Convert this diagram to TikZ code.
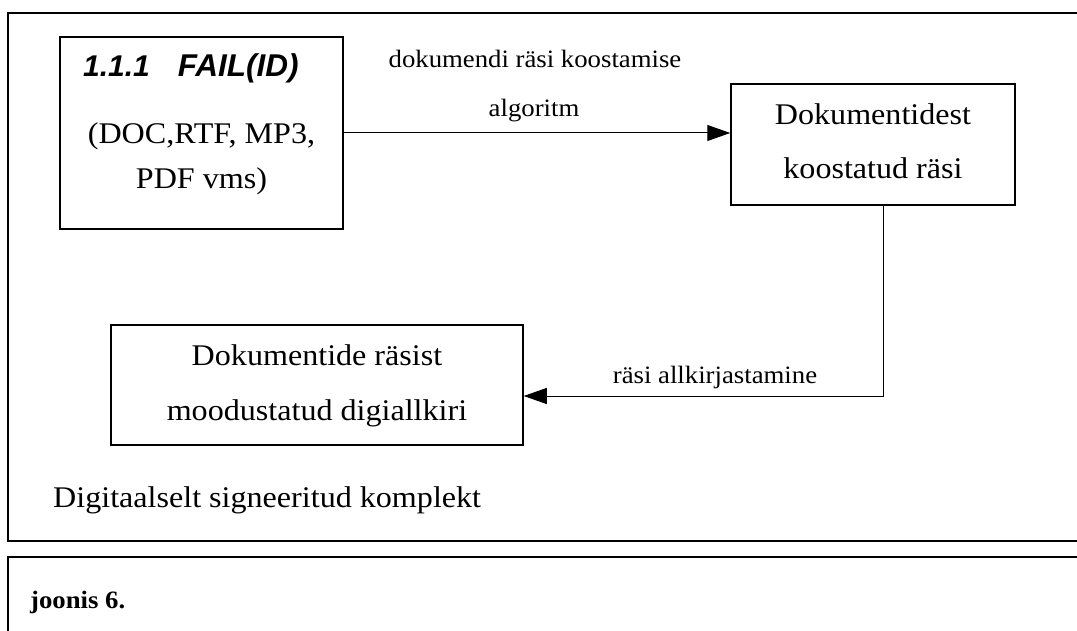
\documentclass[tikz,border=0pt]{standalone}
\usepackage{fontspec}
\setmainfont{Liberation Serif}[FakeStretch=1.07]
\newfontfamily\headsans{Liberation Sans}
\usetikzlibrary{arrows.meta}
\tikzset{
  frame/.style={line width=2pt, line join=miter},
  box/.style={draw, line width=1.5pt, inner sep=0pt},
  txt/.style={anchor=base, inner sep=0pt, font=\fontsize{30}{36}\selectfont},
  lbl/.style={anchor=base, inner sep=0pt, font=\fontsize{25}{30}\selectfont},
  flow/.style={line width=1pt, -{Triangle[length=23pt,width=16pt]}},
}
\begin{document}
\begin{tikzpicture}[x=1pt, y=-1pt]
\useasboundingbox (0,0) rectangle (1077,631);

% outer frames, open to the right
\draw[frame] (1085,13) -- (8,13) -- (8,541) -- (1085,541);
\draw[frame, line width=2.5pt] (1085,557) -- (8,557) -- (8,640);

% boxes
\node[box, minimum width=283pt, minimum height=192pt] (b1) at (201.5,133) {};
\node[box, minimum width=284pt, minimum height=121pt] (b2) at (873,144.5) {};
\node[box, minimum width=412pt, minimum height=120pt] (b3) at (317,385) {};

% box texts
\node[anchor=base west, inner sep=0pt, font=\headsans\bfseries\itshape\fontsize{30}{36}\selectfont]
  (t1a) at (83,77) {1.1.1\hspace{28pt}{\fontsize{31.5}{36}\selectfont FAIL(ID)}};
\node[txt] (t1b) at (201.5,144) {(DOC,RTF, MP3,};
\node[txt] (t1c) at (201.5,189) {PDF vms)};
\node[txt] (t2a) at (873,125) {Dokumentidest};
\node[txt] (t2b) at (873,179) {koostatud räsi};
\node[txt] (t3a) at (317,365) {Dokumentide räsist};
\node[txt] (t3b) at (317,420) {moodustatud digiallkiri};

% connectors
\coordinate (c1) at (883,396);
\draw[flow] (b1.east) -- (b2.west |- b1.east);
\draw[flow] (b2.south -| c1) -- (c1) -- (b3.east |- c1);

% connector labels
\node[lbl] (l1a) at (535,68) {dokumendi räsi koostamise};
\node[lbl] (l1b) at (534,117) {algoritm};
\node[lbl] (l2) at (715,383) {räsi allkirjastamine};

% captions
\node[anchor=base west, inner sep=0pt, font=\fontsize{30}{36}\selectfont]
  (cap) at (53,507) {Digitaalselt signeeritud komplekt};
\node[anchor=base west, inner sep=0pt, font=\bfseries\fontsize{25}{30}\selectfont]
  (fig) at (30,608) {joonis 6.};
\end{tikzpicture}
\end{document}
